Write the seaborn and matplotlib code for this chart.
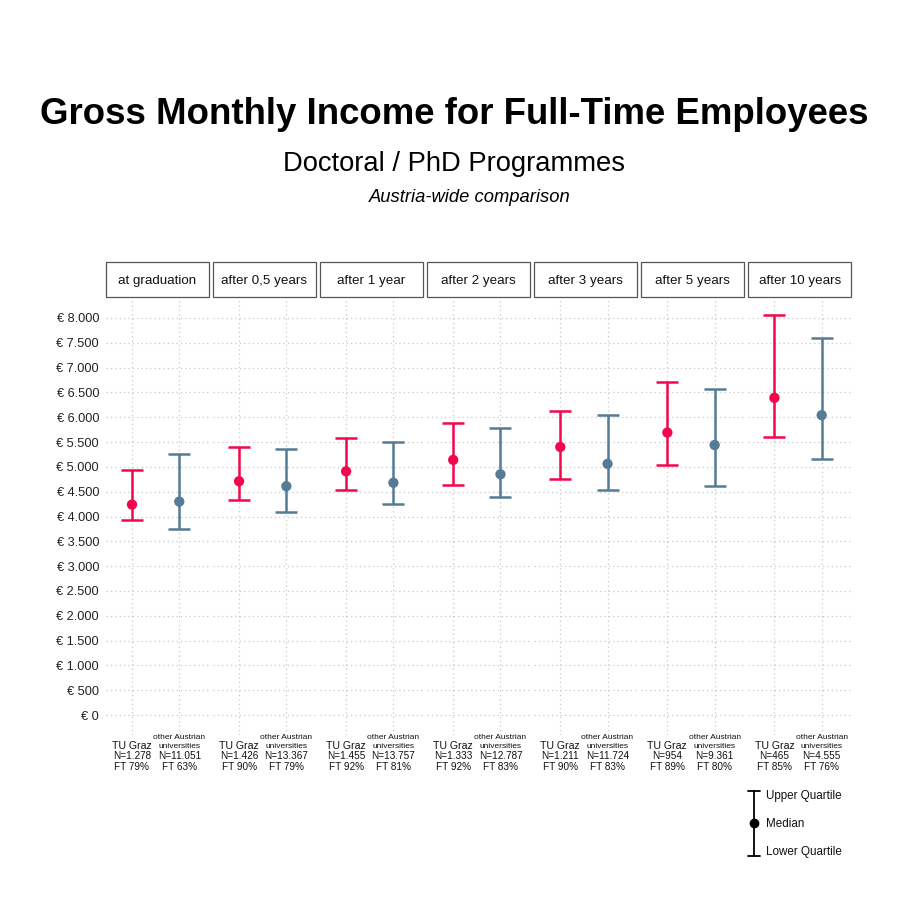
import matplotlib
matplotlib.use("Agg")
import matplotlib.pyplot as plt
import matplotlib.transforms as mtransforms
from matplotlib.lines import Line2D
from matplotlib.patches import Rectangle
import seaborn as sns
import pandas as pd

periods = ["at graduation", "after 0,5 years", "after 1 year", "after 2 years",
           "after 3 years", "after 5 years", "after 10 years"]
tu_median = [4240, 4710, 4910, 5140, 5400, 5690, 6390]
tu_q1 = [3930, 4330, 4540, 4640, 4760, 5040, 5610]
tu_q3 = [4930, 5400, 5580, 5890, 6130, 6700, 8050]
oth_median = [4300, 4610, 4680, 4850, 5060, 5440, 6040]
oth_q1 = [3745, 4090, 4260, 4400, 4530, 4620, 5150]
oth_q3 = [5260, 5350, 5500, 5780, 6040, 6570, 7600]
tu_n = ["1.278", "1.426", "1.455", "1.333", "1.211", "954", "465"]
oth_n = ["11.051", "13.367", "13.757", "12.787", "11.724", "9.361", "4.555"]
tu_ft = ["79%", "90%", "92%", "92%", "90%", "89%", "85%"]
oth_ft = ["63%", "79%", "81%", "83%", "83%", "80%", "76%"]
ytick_vals = [0, 500, 1000, 1500, 2000, 2500, 3000, 3500, 4000, 4500,
              5000, 5500, 6000, 6500, 7000, 7500, 8000]
ytick_labels = ["€ 0", "€ 500", "€ 1.000", "€ 1.500", "€ 2.000", "€ 2.500",
                "€ 3.000", "€ 3.500", "€ 4.000", "€ 4.500", "€ 5.000",
                "€ 5.500", "€ 6.000", "€ 6.500", "€ 7.000", "€ 7.500", "€ 8.000"]

RED = "#F2074C"
BLUE = "#557C94"

rows = []
for i, p in enumerate(periods):
    rows.append(dict(period=p, group="TU Graz", x=1, median=tu_median[i],
                     q1=tu_q1[i], q3=tu_q3[i]))
    rows.append(dict(period=p, group="other", x=2, median=oth_median[i],
                     q1=oth_q1[i], q3=oth_q3[i]))
df = pd.DataFrame(rows)

sns.set_theme(style="white")
plt.rcParams["font.family"] = ["Liberation Sans", "DejaVu Sans"]

W = H = 908
fig = plt.figure(figsize=(9.08, 9.08), dpi=100)
left_px, right_px = 106, 851
top_px, bot_px = 298, 735
gap_px = 4.5
n = len(periods)
pw = (right_px - left_px - gap_px * (n - 1)) / n
ph = bot_px - top_px

palette = {"TU Graz": RED, "other": BLUE}

for i, p in enumerate(periods):
    x0 = left_px + i * (pw + gap_px)
    ax = fig.add_axes([x0 / W, 1 - bot_px / H, pw / W, ph / H])
    sub = df[df.period == p]
    for _, r in sub.iterrows():
        ax.errorbar(r.x, r["median"], yerr=[[r["median"] - r.q1], [r.q3 - r["median"]]],
                    fmt="none", ecolor=palette[r.group], elinewidth=1.8,
                    capsize=8, capthick=1.8, zorder=3)
    sns.scatterplot(data=sub, x="x", y="median", hue="group", palette=palette,
                    s=55, edgecolor="none", legend=False, ax=ax, zorder=4)
    ax.set_xlim(0.45, 2.62)
    ax.set_ylim(-400, 8400)
    ax.set_xticks([1, 2])
    ax.set_xticklabels([])
    ax.set_yticks(ytick_vals)
    if i == 0:
        ax.set_yticklabels(ytick_labels, fontsize=9.2, color="#222222")
    else:
        ax.set_yticklabels([])
    ax.tick_params(axis="both", length=0, pad=5)
    ax.grid(True, linestyle=(0, (1, 2.5)), color="#C8C8C8", linewidth=0.9)
    ax.set_axisbelow(True)
    for s in ax.spines.values():
        s.set_visible(False)
    ax.set_xlabel("")
    ax.set_ylabel("")
    # strip
    strip_h = 35 / ph
    rect = Rectangle((0, 1 + 1.2 / ph), 1, strip_h, transform=ax.transAxes,
                     facecolor="white", edgecolor="#555555", linewidth=0.9,
                     clip_on=False)
    ax.add_patch(rect)
    ax.text(0.5, 1 + 1.2 / ph + strip_h / 2 - 1.5 / ph, p, transform=ax.transAxes,
            ha="center", va="center", fontsize=9.6, color="#111111")
    # bottom labels
    tr = mtransforms.blended_transform_factory(ax.transData, ax.transAxes)
    def yy(px):
        return -(px - bot_px) / ph
    ax.text(1, yy(746), "TU Graz", transform=tr, ha="center", va="center",
            fontsize=7.6, color="#111111")
    ax.text(1, yy(756), "N=" + tu_n[i], transform=tr, ha="center", va="center",
            fontsize=7.2, color="#111111")
    ax.text(1, yy(766.5), "FT " + tu_ft[i], transform=tr, ha="center", va="center",
            fontsize=7.2, color="#111111")
    ax.text(2, yy(737.5), "other Austrian", transform=tr, ha="center", va="center",
            fontsize=6, color="#111111")
    ax.text(2, yy(746), "universities", transform=tr, ha="center", va="center",
            fontsize=6, color="#111111")
    ax.text(2, yy(756), "N=" + oth_n[i], transform=tr, ha="center", va="center",
            fontsize=7.2, color="#111111")
    ax.text(2, yy(766.5), "FT " + oth_ft[i], transform=tr, ha="center", va="center",
            fontsize=7.2, color="#111111")

# titles
fig.text(0.5, 1 - 114 / H, "Gross Monthly Income for Full-Time Employees",
         ha="center", va="center", fontsize=26.4, fontweight="bold", color="black")
fig.text(0.5, 1 - 164 / H, "Doctoral / PhD Programmes",
         ha="center", va="center", fontsize=19.7, color="black")
fig.text(469.5 / W, 1 - 198 / H, "Austria-wide comparison",
         ha="center", va="center", fontsize=13.2, fontstyle="italic", color="black")

# legend glyph
def fx(px):
    return px / W
def fy(py):
    return 1 - py / H
lx = 754
fig.add_artist(Line2D([fx(lx), fx(lx)], [fy(791), fy(856)], color="black", lw=1.3))
for cy in (791, 856):
    fig.add_artist(Line2D([fx(lx - 6), fx(lx + 6)], [fy(cy), fy(cy)], color="black", lw=1.3))
fig.add_artist(Line2D([fx(lx)], [fy(823)], marker="o", markersize=6,
                      color="black", lw=0))
for txt, ty in (("Upper Quartile", 796), ("Median", 824), ("Lower Quartile", 852)):
    fig.text(fx(766), fy(ty), txt, ha="left", va="center", fontsize=8.4, color="#111111")

fig.savefig("out.png", dpi=100, facecolor="white")
